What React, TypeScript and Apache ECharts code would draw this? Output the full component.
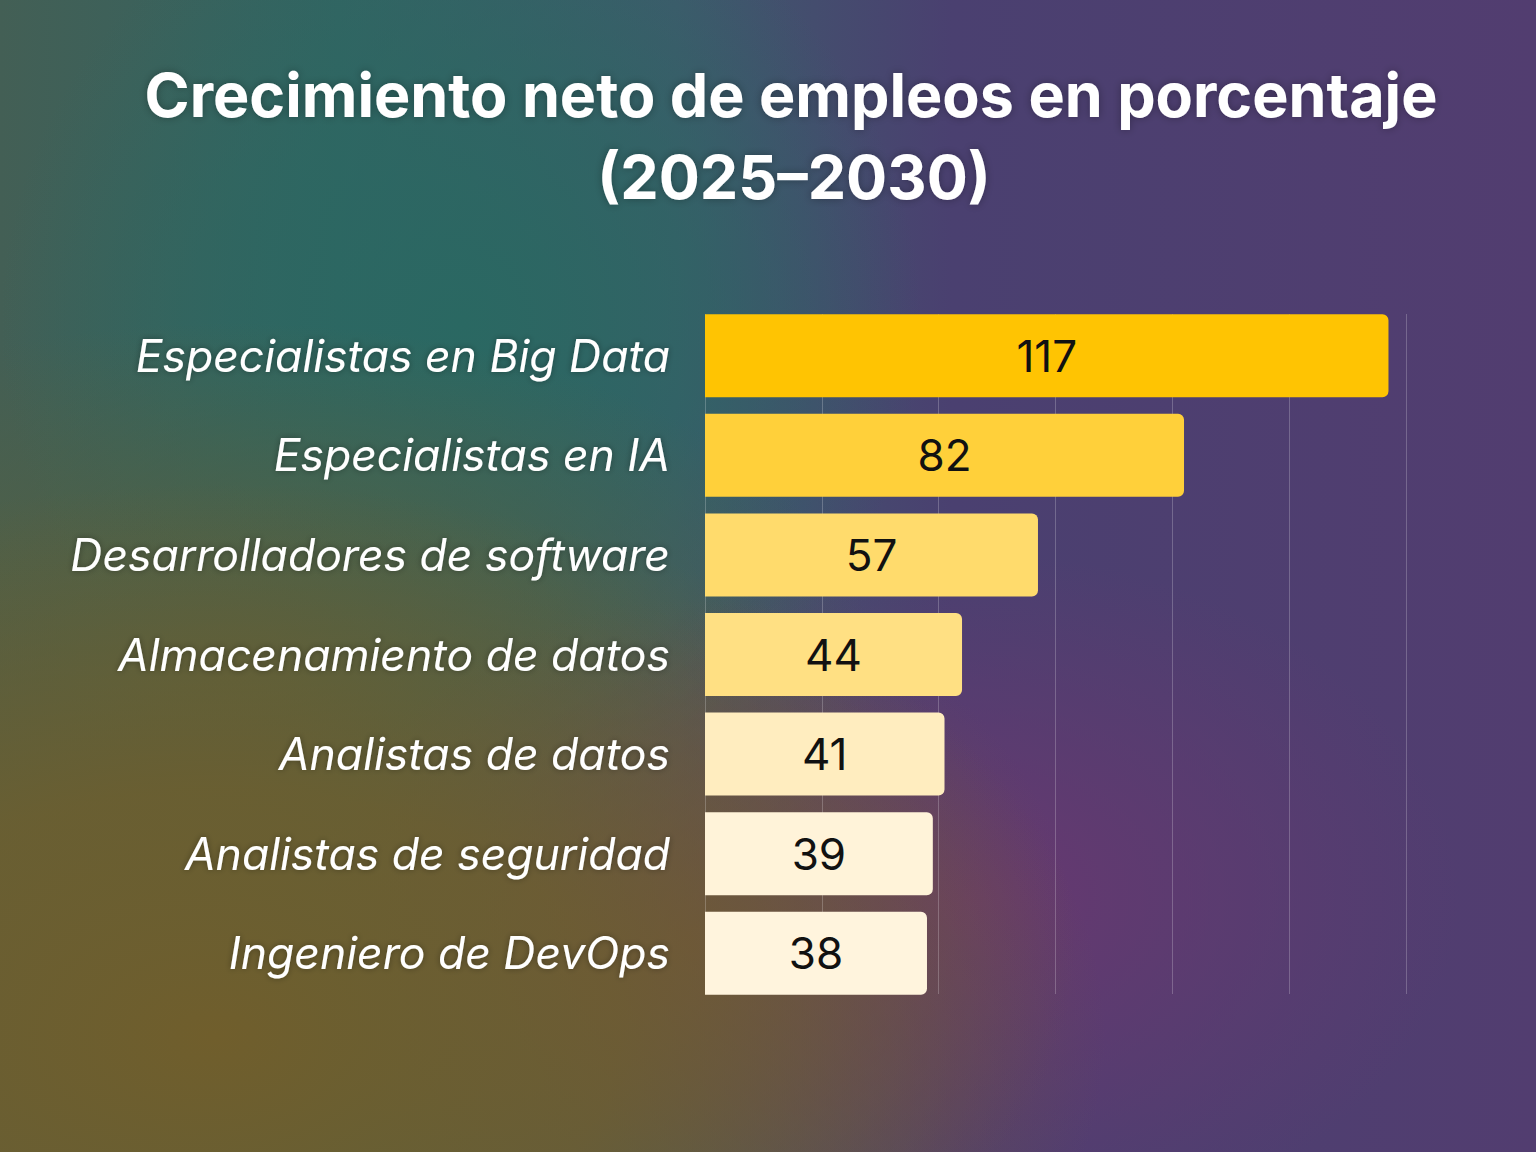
import React, { useEffect, useRef } from "react";
import * as echarts from "echarts";

const categories = [
  "Especialistas en Big Data",
  "Especialistas en IA",
  "Desarrolladores de software",
  "Almacenamiento de datos",
  "Analistas de datos",
  "Analistas de seguridad",
  "Ingeniero de DevOps",
];
const values = [117, 82, 57, 44, 41, 39, 38];
const barColors = ["#FFC402", "#FFD03A", "#FFDB6C", "#FFE083", "#FFEDBF", "#FFF3D9", "#FFF4DD"];
const titleLines = ["Crecimiento neto de empleos en porcentaje", "(2025–2030)"];
const xTicks = { min: 0, max: 120, interval: 20 };

export default function App() {
  const ref = useRef<HTMLDivElement>(null);
  useEffect(() => {
    document.body.style.margin = "0";
    const chart = echarts.init(ref.current!, undefined, { renderer: "svg" });
    const gridLeft = 705;
    const gridRight = 1536 - 1406;
    const titleStyle = {
      fill: "#FFFFFF",
      font: "bold 61px Inter",
      textAlign: "center",
      textVerticalAlign: "middle",
      textShadowColor: "rgba(0,0,0,0.3)",
      textShadowBlur: 8,
    };
    chart.setOption({
      animation: false,
      backgroundColor: "transparent",
      graphic: [
        { type: "text", x: 791, y: 95, style: { ...titleStyle, text: titleLines[0] } },
        { type: "text", x: 794, y: 177, style: { ...titleStyle, text: titleLines[1] } },
      ],
      grid: [
        { left: gridLeft, right: gridRight, top: 306, bottom: 1152 - 1003, containLabel: false },
        { left: gridLeft, right: gridRight, top: 314, height: 680, containLabel: false },
      ],
      xAxis: [
        {
          gridIndex: 0,
          type: "value",
          min: xTicks.min,
          max: xTicks.max,
          interval: xTicks.interval,
          axisLabel: { show: false },
          axisLine: { show: false },
          axisTick: { show: false },
          splitLine: { show: false },
        },
        {
          gridIndex: 1,
          type: "value",
          min: xTicks.min,
          max: xTicks.max,
          interval: xTicks.interval,
          axisLabel: { show: false },
          axisLine: { show: false },
          axisTick: { show: false },
          splitLine: { show: true, lineStyle: { color: "rgba(255,255,255,0.22)", width: 1 } },
        },
      ],
      yAxis: [
        {
          gridIndex: 0,
          type: "category",
          data: categories,
          inverse: true,
          axisLine: { show: false },
          axisTick: { show: false },
          axisLabel: {
            color: "#FFFFFF",
            fontSize: 44.5,
            fontStyle: "italic",
            fontFamily: "Inter",
            margin: 35,
            textShadowColor: "rgba(0,0,0,0.35)",
            textShadowBlur: 6,
          },
        },
        {
          gridIndex: 1,
          type: "category",
          data: categories,
          inverse: true,
          show: false,
        },
      ],
      series: [
        {
          type: "bar",
          xAxisIndex: 0,
          yAxisIndex: 0,
          barWidth: 83,
          data: values.map((v, i) => ({
            value: v,
            itemStyle: { color: barColors[i], borderRadius: [0, 6, 6, 0] },
          })),
          label: {
            show: true,
            position: "inside",
            color: "#111111",
            fontSize: 44,
            fontFamily: "Inter",
          },
          z: 5,
        },
      ],
    });
    return () => chart.dispose();
  }, []);
  return (
    <div
      style={{
        position: "fixed",
        left: 0,
        top: 0,
        width: 1536,
        height: 1152,
        background:
          "radial-gradient(ellipse 58% 48% at 14% 90%, rgba(112,94,44,1) 0%, rgba(112,94,44,0.8) 45%, rgba(112,94,44,0) 100%)," +
          "radial-gradient(ellipse 25% 30% at 45% 82%, rgba(108,80,72,0.9) 0%, rgba(108,80,72,0) 100%)," +
          "radial-gradient(ellipse 42% 30% at 15% 58%, rgba(84,96,66,1) 0%, rgba(84,96,66,0.6) 50%, rgba(84,96,66,0) 100%)," +
          "radial-gradient(ellipse 30% 40% at 30% 28%, rgba(42,104,98,1) 0%, rgba(42,104,98,0.6) 50%, rgba(42,104,98,0) 100%)," +
          "radial-gradient(ellipse 32% 30% at 63% 78%, rgba(104,56,112,1) 0%, rgba(104,56,112,0) 100%)," +
          "linear-gradient(90deg, #435F55 0%, #336462 22%, #3E5A6C 44%, #4A4070 62%, #523D70 100%)",
      }}
    >
      <div ref={ref} style={{ width: 1536, height: 1152 }} />
    </div>
  );
}
